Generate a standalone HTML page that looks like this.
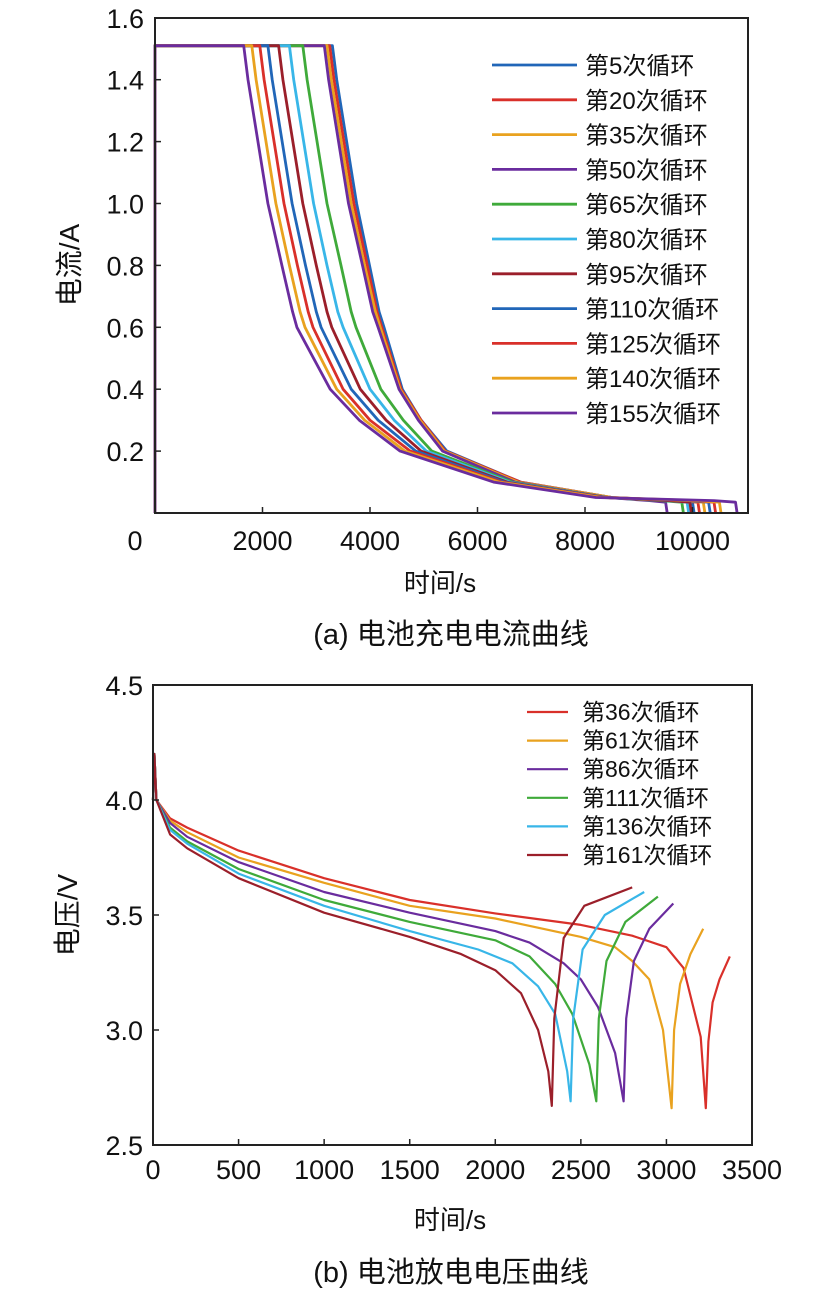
<!DOCTYPE html>
<html><head><meta charset="utf-8"><style>
body{margin:0;background:#fff;}
svg{display:block;font-family:"Liberation Sans","Noto Sans CJK SC",sans-serif;}
</style></head><body>
<svg id="svg" width="831" height="1302" viewBox="0 0 831 1302">
<g id="ga"></g>
<g id="gb"></g>
</svg>
<script>
// ---------- Chart A data ----------
const aLabels = ["第5次循环","第20次循环","第35次循环","第50次循环","第65次循环","第80次循环","第95次循环","第110次循环","第125次循环","第140次循环","第155次循环"];
const aColors = ["#2166b8","#d9302a","#e9a21f","#6a2c9e","#3faa3a","#38b6e8","#9b1f2a","#2166b8","#d9302a","#e9a21f","#6a2c9e"];
const aLevels = [1.51,1.4,1.0,0.8,0.65,0.6,0.4,0.3,0.2,0.1,0.05,0.04];
const aTimes = [
 [3300,3380,3750,3990,4170,4260,4600,4950,5430,6800,8500,9600],
 [3250,3330,3700,3950,4130,4220,4580,4950,5400,6800,8500,9700],
 [3200,3280,3650,3900,4100,4190,4560,4930,5380,6750,8500,9800],
 [3150,3230,3600,3860,4050,4150,4540,4900,5350,6700,8400,9200],
 [2750,2830,3200,3460,3650,3740,4200,4620,5150,6650,8400,9400],
 [2500,2580,2950,3200,3400,3500,4000,4450,5050,6600,8400,9500],
 [2300,2380,2750,3000,3200,3290,3820,4300,4950,6550,8400,9550],
 [2100,2180,2550,2800,3000,3090,3650,4150,4850,6500,8400,9900],
 [1950,2030,2400,2650,2850,2940,3500,4000,4750,6450,8350,10000],
 [1800,1880,2250,2500,2700,2790,3380,3900,4650,6400,8300,10100],
 [1650,1730,2100,2360,2560,2640,3260,3800,4560,6300,8200,10400]
];
const aEnds = [10000,10100,10200,9500,9800,9900,9950,10300,10400,10500,10800];
const aYTicks = [0.2,0.4,0.6,0.8,1.0,1.2,1.4,1.6];
const aXTicks = [2000,4000,6000,8000,10000];

// ---------- Chart B data ----------
const bLabels = ["第36次循环","第61次循环","第86次循环","第111次循环","第136次循环","第161次循环"];
const bColors = ["#d9302a","#e9a21f","#6a2c9e","#3faa3a","#38b6e8","#9b1f2a"];
const bT = [
 [0,8,20,100,200,500,1000,1500,2000,2500,2800,3000,3100,3200,3230,3245,3270,3310,3370],
 [0,8,20,100,200,500,1000,1500,2000,2500,2700,2800,2900,2980,3030,3045,3080,3140,3215],
 [0,8,20,100,200,500,1000,1500,2000,2200,2400,2500,2600,2700,2750,2765,2810,2900,3040],
 [0,8,20,100,200,500,1000,1500,2000,2200,2350,2450,2550,2590,2605,2650,2760,2950],
 [0,8,20,100,200,500,1000,1500,1900,2100,2250,2350,2420,2440,2455,2510,2640,2870],
 [0,8,20,100,200,500,1000,1500,1800,2000,2150,2250,2310,2330,2345,2400,2520,2800]
];
const bV = [
 [4.0,4.2,4.0,3.92,3.88,3.78,3.66,3.565,3.507,3.457,3.41,3.36,3.27,2.97,2.66,2.95,3.12,3.22,3.32],
 [4.0,4.2,4.0,3.91,3.86,3.75,3.64,3.54,3.485,3.405,3.36,3.30,3.22,3.00,2.66,3.0,3.2,3.33,3.44],
 [4.0,4.2,4.0,3.90,3.84,3.73,3.60,3.51,3.43,3.38,3.29,3.22,3.10,2.90,2.69,3.05,3.3,3.44,3.55],
 [4.0,4.2,4.0,3.88,3.82,3.70,3.565,3.47,3.39,3.32,3.20,3.07,2.85,2.69,3.05,3.3,3.47,3.58],
 [4.0,4.2,4.0,3.87,3.81,3.68,3.54,3.43,3.35,3.29,3.19,3.07,2.82,2.69,3.05,3.35,3.50,3.60],
 [4.0,4.2,4.0,3.85,3.79,3.66,3.51,3.405,3.33,3.26,3.16,3.00,2.82,2.67,3.05,3.40,3.54,3.62]
];
const bYTicks = [2.5,3.0,3.5,4.0,4.5];
const bXTicks = [0,500,1000,1500,2000,2500,3000,3500];

const NS="http://www.w3.org/2000/svg";
function mk(parent,tag,attrs,text){const e=document.createElementNS(NS,tag);for(const k in attrs)e.setAttribute(k,attrs[k]);if(text!==undefined)e.textContent=text;parent.appendChild(e);return e;}
const TK=27;

// ---------- Chart A ----------
(function(){
 const g=document.getElementById('ga');
 const L=155,R=748,T=18,B=513;
 const x=t=>L+t/2000*107.5;
 const y=v=>B-v/0.2*61.9;
 aTimes.forEach((ts,i)=>{
  let pts=[[x(0),y(0)],[x(0),y(1.51)]];
  ts.forEach((t,j)=>pts.push([x(t),y(aLevels[j])]));
  pts.push([x(aEnds[i]),y(0.035)]);
  pts.push([x(aEnds[i]+30),y(0)]);
  const p=mk(g,'polyline',{points:pts.map(q=>q[0].toFixed(1)+','+q[1].toFixed(1)).join(' '),fill:'none',stroke:aColors[i],'stroke-width':2.8,'stroke-linejoin':'round'});
  
  
 });
 const fr=mk(g,'rect',{x:L,y:T,width:R-L,height:B-T,fill:'none',stroke:'#222','stroke-width':2});
 
 
 aYTicks.forEach(v=>{
  mk(g,'line',{x1:L,x2:L+6,y1:y(v),y2:y(v),stroke:'#222','stroke-width':1.5});
  const t=mk(g,'text',{x:L-11,y:y(v)+10,'text-anchor':'end','font-size':TK,fill:'#111'},v.toFixed(1));
  
  
 });
 const z=mk(g,'text',{x:135,y:550,'text-anchor':'middle','font-size':TK,fill:'#111'},'0');
 
 
 aXTicks.forEach(v=>{
  mk(g,'line',{x1:x(v),x2:x(v),y1:B,y2:B-6,stroke:'#222','stroke-width':1.5});
  const t=mk(g,'text',{x:x(v),y:550,'text-anchor':'middle','font-size':TK,fill:'#111'},String(v));
  
  
 });
 aLabels.forEach((lb,i)=>{
  const yy=65+i*34.8;
  const ln=mk(g,'line',{x1:492,x2:577,y1:yy,y2:yy,stroke:aColors[i],'stroke-width':2.8});
  
  
  const t=mk(g,'text',{x:585,y:yy+9,'font-size':24,fill:'#111'},lb);
  
  
 });
 const xt=mk(g,'text',{x:440,y:592,'text-anchor':'middle','font-size':26,fill:'#111'},'时间/s');
 
 
 const yt=mk(g,'text',{x:0,y:0,'text-anchor':'middle','font-size':28,fill:'#111',transform:'translate(79,265) rotate(-90)'},'电流/A');
 
 
 const cap=mk(g,'text',{x:451,y:644,'text-anchor':'middle','font-size':29,fill:'#111'},'(a) 电池充电电流曲线');
 
 
})();

// ---------- Chart B ----------
(function(){
 const g=document.getElementById('gb');
 const L=153,R=752,T=685,B=1145;
 const x=t=>L+t/3500*(R-L);
 const y=v=>B-(v-2.5)/2*(B-T);
 bT.forEach((ts,i)=>{
  const pts=ts.map((t,j)=>x(t).toFixed(1)+','+y(bV[i][j]).toFixed(1)).join(' ');
  const p=mk(g,'polyline',{points:pts,fill:'none',stroke:bColors[i],'stroke-width':2.2,'stroke-linejoin':'round'});
  
  
 });
 const fr=mk(g,'rect',{x:L,y:T,width:R-L,height:B-T,fill:'none',stroke:'#222','stroke-width':2});
 
 
 bYTicks.forEach(v=>{
  mk(g,'line',{x1:L,x2:L+6,y1:y(v),y2:y(v),stroke:'#222','stroke-width':1.5});
  const t=mk(g,'text',{x:L-10,y:y(v)+10,'text-anchor':'end','font-size':TK,fill:'#111'},v.toFixed(1));
  
  
 });
 bXTicks.forEach(v=>{
  mk(g,'line',{x1:x(v),x2:x(v),y1:B,y2:B-6,stroke:'#222','stroke-width':1.5});
  const t=mk(g,'text',{x:x(v),y:1179,'text-anchor':'middle','font-size':TK,fill:'#111'},String(v));
  
  
 });
 bLabels.forEach((lb,i)=>{
  const yy=712+i*28.6;
  const ln=mk(g,'line',{x1:527,x2:568,y1:yy,y2:yy,stroke:bColors[i],'stroke-width':2.2});
  
  
  const t=mk(g,'text',{x:582,y:yy+8,'font-size':23,fill:'#111'},lb);
  
  
 });
 const xt=mk(g,'text',{x:450,y:1229,'text-anchor':'middle','font-size':26,fill:'#111'},'时间/s');
 
 
 const yt=mk(g,'text',{x:0,y:0,'text-anchor':'middle','font-size':28,fill:'#111',transform:'translate(77,915) rotate(-90)'},'电压/V');
 
 
 const cap=mk(g,'text',{x:451,y:1282,'text-anchor':'middle','font-size':29,fill:'#111'},'(b) 电池放电电压曲线');
 
 
})();
</script>
</body></html>
